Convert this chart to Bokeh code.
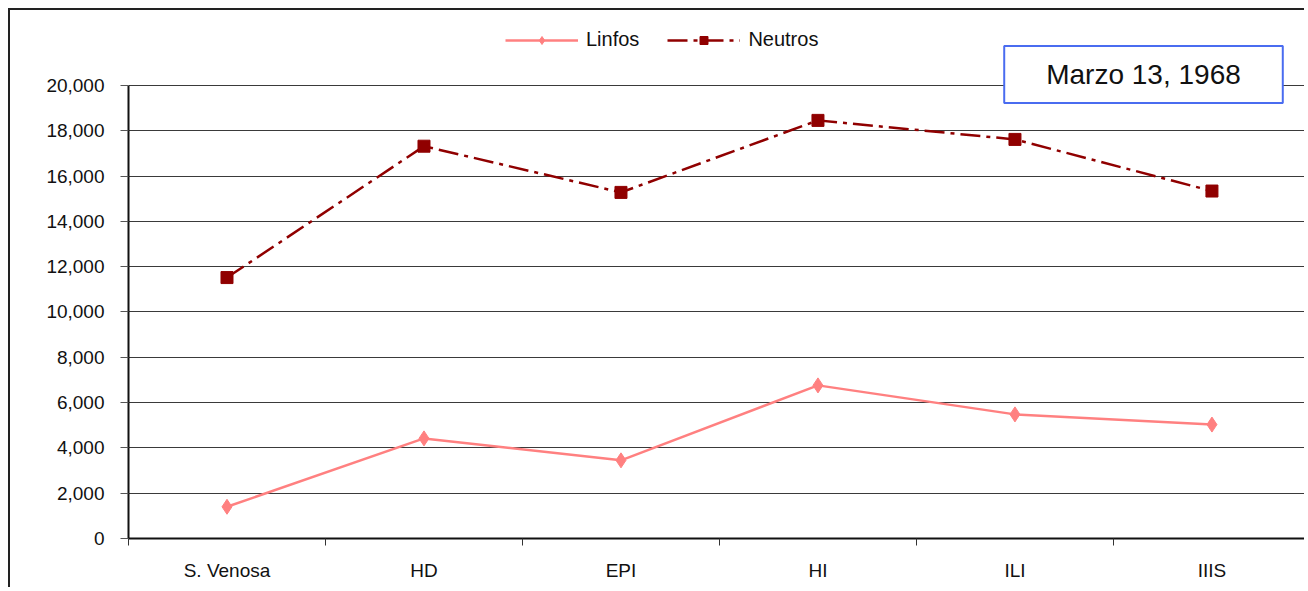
from bokeh.plotting import figure
from bokeh.models import (Range1d, FixedTicker, NumeralTickFormatter, Legend, LegendItem, Label)
from bokeh.embed import file_html
from bokeh.resources import INLINE

categories = ["S. Venosa", "HD", "EPI", "HI", "ILI", "IIIS"]
linfos = [1400, 4420, 3450, 6760, 5480, 5030]
neutros = [11520, 17320, 15280, 18460, 17620, 15340]
y_ticks = [0, 2000, 4000, 6000, 8000, 10000, 12000, 14000, 16000, 18000, 20000]
date_text = "Marzo 13, 1968"

FONT = "Liberation Sans"
xs = [i + 1 for i in range(len(categories))]

# frame extends above the top tick so that legend and note (drawn inside the frame) are not clipped
p = figure(width=1296, height=579, output_backend="svg", toolbar_location=None,
           x_range=Range1d(0.5, 6.48), y_range=Range1d(0, 23311),
           min_border_left=118, min_border_right=0, min_border_top=0, min_border_bottom=51)
p.styles = {"margin-left": "8px", "margin-top": "8px",
            "border-left": "2px solid #222", "border-top": "2px solid #222"}
p.outline_line_color = None
p.background_fill_color = "white"
p.border_fill_color = "white"

# grid
p.xgrid.visible = False
p.ygrid.ticker = FixedTicker(ticks=y_ticks)
p.ygrid.grid_line_color = "#3a3a3a"
p.ygrid.grid_line_width = 1

# y axis
ya = p.yaxis[0]
ya.ticker = FixedTicker(ticks=y_ticks)
ya.bounds = (y_ticks[0], y_ticks[-1])
ya.formatter = NumeralTickFormatter(format="0,0")
ya.axis_line_color = "#111"
ya.axis_line_width = 2
ya.major_tick_out = 8
ya.major_tick_in = 0
ya.major_tick_line_color = "#555"
ya.minor_tick_line_color = None
ya.major_label_standoff = 16
ya.major_label_text_font = FONT
ya.major_label_text_font_size = "19px"
ya.major_label_text_color = "#111"

# x axis
xa = p.xaxis[0]
xa.ticker = FixedTicker(ticks=xs, minor_ticks=[x - 0.5 for x in xs] + [xs[-1] + 0.5])
xa.major_label_overrides = {x: c for x, c in zip(xs, categories)}
xa.axis_line_color = "#111"
xa.axis_line_width = 2
xa.major_tick_line_color = None
xa.major_tick_out = 0
xa.major_tick_in = 0
xa.minor_tick_line_color = "#333"
xa.minor_tick_out = 7
xa.minor_tick_in = 0
xa.major_label_standoff = 14
xa.major_label_text_font = FONT
xa.major_label_text_font_size = "19px"
xa.major_label_text_color = "#111"

# series
l1 = p.line(xs, linfos, line_color="#FF8080", line_width=2.5)
m1 = p.scatter(xs, linfos, marker="diamond", size=15, fill_color="#FF8080", line_color="#FF8080")
l2 = p.line(xs, neutros, line_color="#900000", line_width=2.5, line_dash="20 6 4 6")
m2 = p.scatter(xs, neutros, marker="square", size=12, fill_color="#900000", line_color="#900000")

legend = Legend(items=[LegendItem(label="Linfos", renderers=[l1, m1]),
                       LegendItem(label="Neutros", renderers=[l2, m2])],
                orientation="horizontal", location=(377, 487),
                glyph_width=73, glyph_height=20, label_standoff=8, spacing=28,
                padding=0, margin=0, border_line_color=None, background_fill_alpha=0,
                label_text_font=FONT, label_text_font_size="20px", label_text_color="#111")
p.add_layout(legend, "center")

lab = Label(x=1015, y=464, x_units="screen", y_units="screen", text=date_text,
            text_align="center", text_baseline="middle",
            text_font=FONT, text_font_size="28px", text_color="#111",
            background_fill_color="white", border_line_color="#4A6CF0", border_line_width=2,
            padding=(42, 13))
p.add_layout(lab)

open("out.html", "w").write(file_html(p, INLINE))
